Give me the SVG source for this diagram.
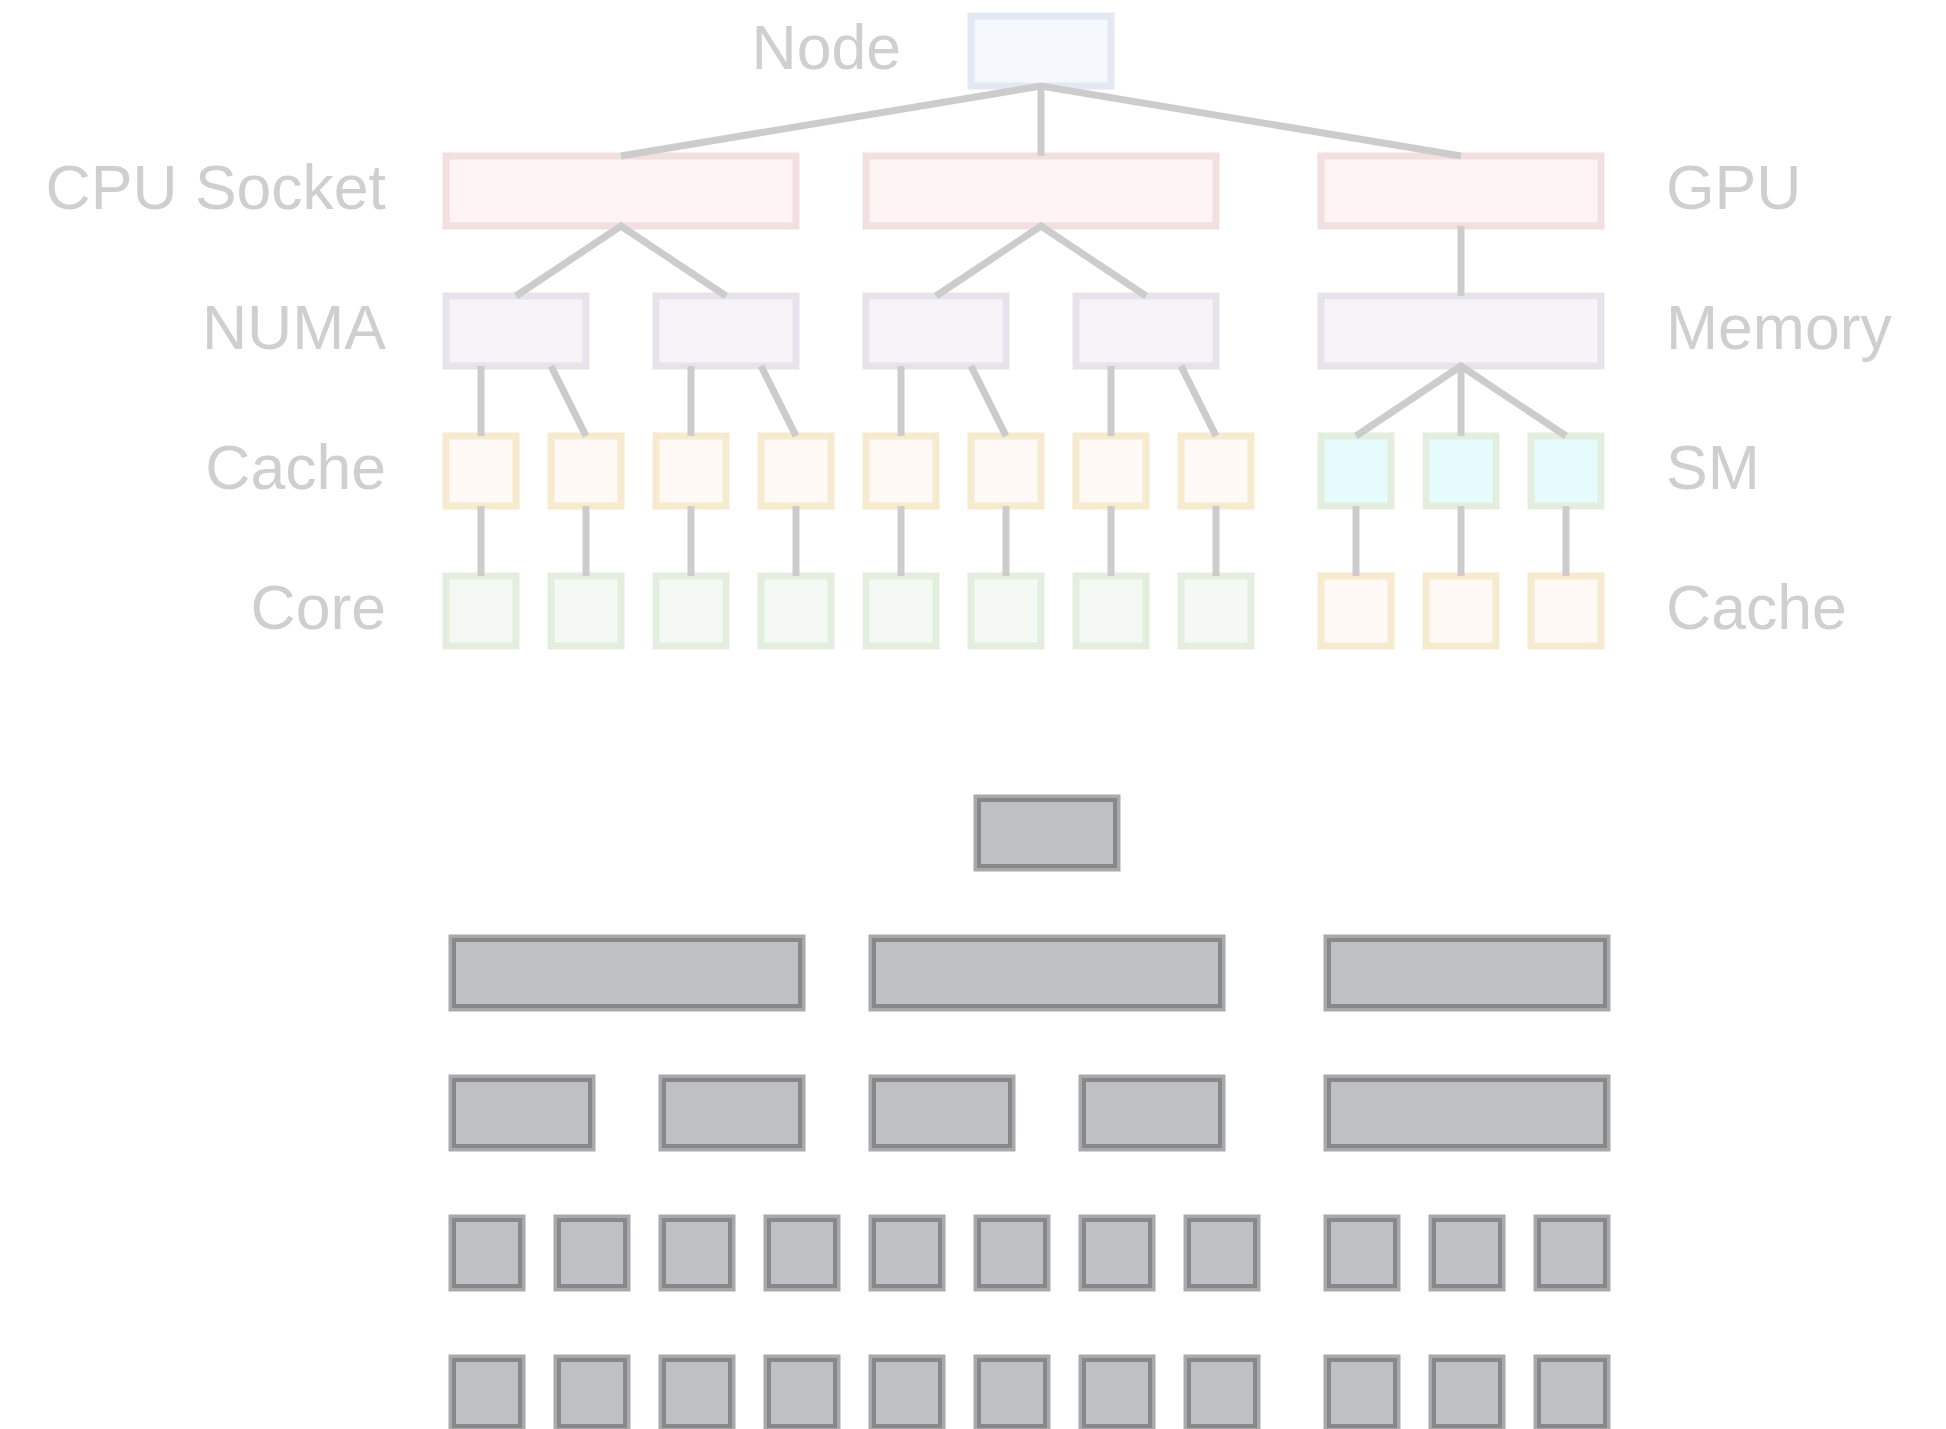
<svg xmlns="http://www.w3.org/2000/svg" width="1946" height="1429" viewBox="0 0 1946 1429">
<style>
rect{stroke-width:7}
.node{fill:#f5f9fe;stroke:#e2e9f3}
.cpu{fill:#fdf3f3;stroke:#f2dfdf}
.numa{fill:#f6f4f8;stroke:#e7e3eb}
.cache{fill:#fef9f4;stroke:#f6eacf}
.core{fill:#f4f9f4;stroke:#e4eedf}
.sm{fill:#e6fcfc;stroke:#e3eedf}
.go{fill:#bfc0c4;stroke:#a9a9aa}
.gi{fill:none;stroke:#87888c;stroke-width:4}
.lbl{font-family:"Liberation Sans",Arial,sans-serif;font-size:62.5px;fill:#cfcfcf}
.end{text-anchor:end}
#connectors path{fill:none;stroke:#cccccc;stroke-width:7;stroke-linejoin:miter}
</style>
<rect width="1946" height="1429" fill="#ffffff" stroke="none"/>
<g id="labels">
<text class="lbl end" x="901" y="68.5">Node</text>
<text class="lbl end" x="386" y="209">CPU Socket</text>
<text class="lbl end" x="386" y="348.5">NUMA</text>
<text class="lbl end" x="386" y="488.5">Cache</text>
<text class="lbl end" x="386" y="628.5">Core</text>
<text class="lbl" x="1666" y="209">GPU</text>
<text class="lbl" x="1666" y="348.5">Memory</text>
<text class="lbl" x="1666" y="488.5">SM</text>
<text class="lbl" x="1666" y="628.5">Cache</text>
</g>
<g id="top-nodes">
<g id="node"><rect class="node" x="971" y="16" width="140" height="70"/></g>
<g id="cpu1"><rect class="cpu" x="446" y="156" width="350" height="70"/></g>
<g id="cpu2"><rect class="cpu" x="866" y="156" width="350" height="70"/></g>
<g id="gpu"><rect class="cpu" x="1321" y="156" width="280" height="70"/></g>
<g id="numa1"><rect class="numa" x="446" y="296" width="140" height="70"/></g>
<g id="numa2"><rect class="numa" x="656" y="296" width="140" height="70"/></g>
<g id="numa3"><rect class="numa" x="866" y="296" width="140" height="70"/></g>
<g id="numa4"><rect class="numa" x="1076" y="296" width="140" height="70"/></g>
<g id="memory"><rect class="numa" x="1321" y="296" width="280" height="70"/></g>
<g id="cache1"><rect class="cache" x="446" y="436" width="70" height="70"/></g>
<g id="cache2"><rect class="cache" x="551" y="436" width="70" height="70"/></g>
<g id="cache3"><rect class="cache" x="656" y="436" width="70" height="70"/></g>
<g id="cache4"><rect class="cache" x="761" y="436" width="70" height="70"/></g>
<g id="cache5"><rect class="cache" x="866" y="436" width="70" height="70"/></g>
<g id="cache6"><rect class="cache" x="971" y="436" width="70" height="70"/></g>
<g id="cache7"><rect class="cache" x="1076" y="436" width="70" height="70"/></g>
<g id="cache8"><rect class="cache" x="1181" y="436" width="70" height="70"/></g>
<g id="sm1"><rect class="sm" x="1321" y="436" width="70" height="70"/></g>
<g id="sm2"><rect class="sm" x="1426" y="436" width="70" height="70"/></g>
<g id="sm3"><rect class="sm" x="1531" y="436" width="70" height="70"/></g>
<g id="core1"><rect class="core" x="446" y="576" width="70" height="70"/></g>
<g id="core2"><rect class="core" x="551" y="576" width="70" height="70"/></g>
<g id="core3"><rect class="core" x="656" y="576" width="70" height="70"/></g>
<g id="core4"><rect class="core" x="761" y="576" width="70" height="70"/></g>
<g id="core5"><rect class="core" x="866" y="576" width="70" height="70"/></g>
<g id="core6"><rect class="core" x="971" y="576" width="70" height="70"/></g>
<g id="core7"><rect class="core" x="1076" y="576" width="70" height="70"/></g>
<g id="core8"><rect class="core" x="1181" y="576" width="70" height="70"/></g>
<g id="gcache1"><rect class="cache" x="1321" y="576" width="70" height="70"/></g>
<g id="gcache2"><rect class="cache" x="1426" y="576" width="70" height="70"/></g>
<g id="gcache3"><rect class="cache" x="1531" y="576" width="70" height="70"/></g>
</g>
<g id="connectors">
<path d="M621 156 L1041 86 L1461 156"/>
<path d="M1041 86 V156"/>
<path d="M516 296 L621 226 L726 296"/>
<path d="M936 296 L1041 226 L1146 296"/>
<path d="M1461 226 V296"/>
<path d="M481 366 V436"/><path d="M551 366 L586 436"/>
<path d="M691 366 V436"/><path d="M761 366 L796 436"/>
<path d="M901 366 V436"/><path d="M971 366 L1006 436"/>
<path d="M1111 366 V436"/><path d="M1181 366 L1216 436"/>
<path d="M1356 436 L1461 366 L1566 436"/>
<path d="M1461 366 V436"/>
<path d="M481 506 V576"/><path d="M586 506 V576"/><path d="M691 506 V576"/><path d="M796 506 V576"/>
<path d="M901 506 V576"/><path d="M1006 506 V576"/><path d="M1111 506 V576"/><path d="M1216 506 V576"/>
<path d="M1356 506 V576"/><path d="M1461 506 V576"/><path d="M1566 506 V576"/>
</g>
<g id="bottom-nodes" transform="translate(6 782)">
<g id="b-node"><rect class="go" x="971" y="16" width="140" height="70"/><rect class="gi" x="973" y="18" width="136" height="66"/></g>
<g id="b-cpu1"><rect class="go" x="446" y="156" width="350" height="70"/><rect class="gi" x="448" y="158" width="346" height="66"/></g>
<g id="b-cpu2"><rect class="go" x="866" y="156" width="350" height="70"/><rect class="gi" x="868" y="158" width="346" height="66"/></g>
<g id="b-gpu"><rect class="go" x="1321" y="156" width="280" height="70"/><rect class="gi" x="1323" y="158" width="276" height="66"/></g>
<g id="b-numa1"><rect class="go" x="446" y="296" width="140" height="70"/><rect class="gi" x="448" y="298" width="136" height="66"/></g>
<g id="b-numa2"><rect class="go" x="656" y="296" width="140" height="70"/><rect class="gi" x="658" y="298" width="136" height="66"/></g>
<g id="b-numa3"><rect class="go" x="866" y="296" width="140" height="70"/><rect class="gi" x="868" y="298" width="136" height="66"/></g>
<g id="b-numa4"><rect class="go" x="1076" y="296" width="140" height="70"/><rect class="gi" x="1078" y="298" width="136" height="66"/></g>
<g id="b-memory"><rect class="go" x="1321" y="296" width="280" height="70"/><rect class="gi" x="1323" y="298" width="276" height="66"/></g>
<g id="b-cache1"><rect class="go" x="446" y="436" width="70" height="70"/><rect class="gi" x="448" y="438" width="66" height="66"/></g>
<g id="b-cache2"><rect class="go" x="551" y="436" width="70" height="70"/><rect class="gi" x="553" y="438" width="66" height="66"/></g>
<g id="b-cache3"><rect class="go" x="656" y="436" width="70" height="70"/><rect class="gi" x="658" y="438" width="66" height="66"/></g>
<g id="b-cache4"><rect class="go" x="761" y="436" width="70" height="70"/><rect class="gi" x="763" y="438" width="66" height="66"/></g>
<g id="b-cache5"><rect class="go" x="866" y="436" width="70" height="70"/><rect class="gi" x="868" y="438" width="66" height="66"/></g>
<g id="b-cache6"><rect class="go" x="971" y="436" width="70" height="70"/><rect class="gi" x="973" y="438" width="66" height="66"/></g>
<g id="b-cache7"><rect class="go" x="1076" y="436" width="70" height="70"/><rect class="gi" x="1078" y="438" width="66" height="66"/></g>
<g id="b-cache8"><rect class="go" x="1181" y="436" width="70" height="70"/><rect class="gi" x="1183" y="438" width="66" height="66"/></g>
<g id="b-sm1"><rect class="go" x="1321" y="436" width="70" height="70"/><rect class="gi" x="1323" y="438" width="66" height="66"/></g>
<g id="b-sm2"><rect class="go" x="1426" y="436" width="70" height="70"/><rect class="gi" x="1428" y="438" width="66" height="66"/></g>
<g id="b-sm3"><rect class="go" x="1531" y="436" width="70" height="70"/><rect class="gi" x="1533" y="438" width="66" height="66"/></g>
<g id="b-core1"><rect class="go" x="446" y="576" width="70" height="70"/><rect class="gi" x="448" y="578" width="66" height="66"/></g>
<g id="b-core2"><rect class="go" x="551" y="576" width="70" height="70"/><rect class="gi" x="553" y="578" width="66" height="66"/></g>
<g id="b-core3"><rect class="go" x="656" y="576" width="70" height="70"/><rect class="gi" x="658" y="578" width="66" height="66"/></g>
<g id="b-core4"><rect class="go" x="761" y="576" width="70" height="70"/><rect class="gi" x="763" y="578" width="66" height="66"/></g>
<g id="b-core5"><rect class="go" x="866" y="576" width="70" height="70"/><rect class="gi" x="868" y="578" width="66" height="66"/></g>
<g id="b-core6"><rect class="go" x="971" y="576" width="70" height="70"/><rect class="gi" x="973" y="578" width="66" height="66"/></g>
<g id="b-core7"><rect class="go" x="1076" y="576" width="70" height="70"/><rect class="gi" x="1078" y="578" width="66" height="66"/></g>
<g id="b-core8"><rect class="go" x="1181" y="576" width="70" height="70"/><rect class="gi" x="1183" y="578" width="66" height="66"/></g>
<g id="b-gcache1"><rect class="go" x="1321" y="576" width="70" height="70"/><rect class="gi" x="1323" y="578" width="66" height="66"/></g>
<g id="b-gcache2"><rect class="go" x="1426" y="576" width="70" height="70"/><rect class="gi" x="1428" y="578" width="66" height="66"/></g>
<g id="b-gcache3"><rect class="go" x="1531" y="576" width="70" height="70"/><rect class="gi" x="1533" y="578" width="66" height="66"/></g>
</g>
</svg>
